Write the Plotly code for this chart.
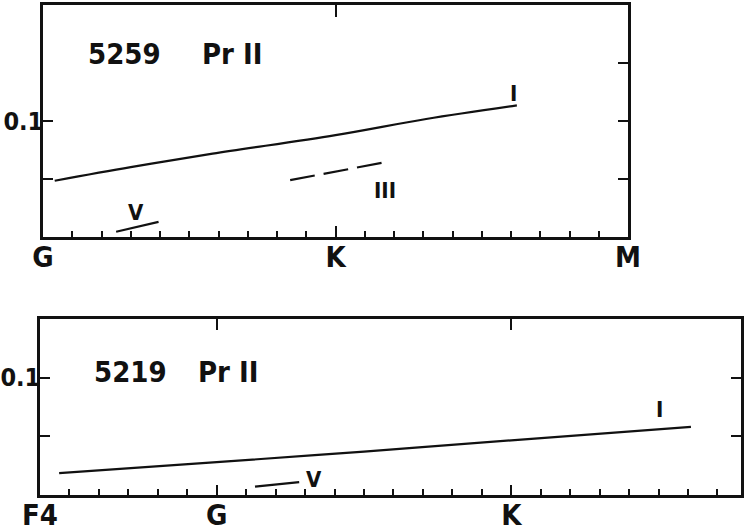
import plotly.graph_objects as go

# ---- data (spectral type scale: G0 = 0, K0 = 1, M0 = 2; one unit = 10 subtypes) ----
top_I_x = [0.04, 0.30, 0.58, 1.00, 1.31, 1.62]
top_I_y = [0.0485, 0.0602, 0.0718, 0.0878, 0.1017, 0.1134]
top_III_x = [0.845, 1.16]
top_III_y = [0.049, 0.064]
top_V_x = [0.25, 0.395]
top_V_y = [0.0045, 0.013]

bot_I_x = [-0.535, 0.0, 0.5, 1.0, 1.61]
bot_I_y = [0.0186, 0.028, 0.037, 0.0466, 0.058]
bot_V_x = [0.13, 0.28]
bot_V_y = [0.0071, 0.0109]

top_major = {0: "G", 1: "K", 2: "M"}
bot_major = {-0.6: "F4", 0: "G", 1: "K"}
y_ticks_left = [0.05, 0.1]
y_labels_left = ["", "0.1"]

INK = "#111111"
FONT = "DejaVu Sans Condensed, DejaVu Sans, Liberation Sans"


def subtype_ticks(lo, hi, major):
    vals, texts = [], []
    n = int(round(lo * 10))
    while n <= int(round(hi * 10)):
        v = round(n / 10, 1)
        vals.append(v)
        label = ""
        for k, t in major.items():
            if abs(k - v) < 1e-6:
                label = t
        texts.append(label)
        n += 1
    return vals, texts


top_vals, top_text = subtype_ticks(0, 2, top_major)
bot_vals, bot_text = subtype_ticks(-0.6, 1.7, bot_major)

fig = go.Figure()
line = dict(color=INK, width=2.2)

fig.add_trace(go.Scatter(x=top_I_x, y=top_I_y, mode="lines", line=dict(line, shape="spline"),
                         xaxis="x", yaxis="y", showlegend=False, hoverinfo="skip"))
fig.add_trace(go.Scatter(x=top_III_x, y=top_III_y, mode="lines", line=dict(line, dash="25px,9px"),
                         xaxis="x", yaxis="y", showlegend=False, hoverinfo="skip"))
fig.add_trace(go.Scatter(x=top_V_x, y=top_V_y, mode="lines", line=line,
                         xaxis="x", yaxis="y", showlegend=False, hoverinfo="skip"))
fig.add_trace(go.Scatter(x=bot_I_x, y=bot_I_y, mode="lines", line=dict(line, shape="spline"),
                         xaxis="x2", yaxis="y2", showlegend=False, hoverinfo="skip"))
fig.add_trace(go.Scatter(x=bot_V_x, y=bot_V_y, mode="lines", line=line,
                         xaxis="x2", yaxis="y2", showlegend=False, hoverinfo="skip"))
# empty traces to materialise the overlay axes (edge tick marks)
for xa, ya in [("x3", "y"), ("x", "y3"), ("x4", "y2"), ("x2", "y4"), ("x5", "y"), ("x6", "y2")]:
    fig.add_trace(go.Scatter(x=[], y=[], xaxis=xa, yaxis=ya, showlegend=False, hoverinfo="skip"))

W, H = 750, 531
top_dom_x = [43 / W, 628 / W]
top_dom_y = [1 - 237 / H, 1 - 5 / H]
bot_dom_x = [40 / W, 741 / W]
bot_dom_y = [1 - 495 / H, 1 - 319 / H]

tickfont = dict(family=FONT, size=29, color=INK, weight="bold")
yfont = dict(family=FONT, size=25, color=INK, weight="bold")
common_x = dict(showgrid=False, zeroline=False, showline=True, linecolor=INK, linewidth=2.5,
                mirror=True, ticks="inside", ticklen=6, tickwidth=2, tickcolor=INK,
                tickfont=tickfont, fixedrange=True, automargin=False, ticklabelstandoff=-8)
common_y = dict(showgrid=False, zeroline=False, showline=True, linecolor=INK, linewidth=2.5,
                mirror=True, ticks="inside", ticklen=10, tickwidth=2, tickcolor=INK,
                tickfont=yfont, fixedrange=True, automargin=False, ticklabelstandoff=-8)
overlay = dict(showgrid=False, zeroline=False, showline=False, showticklabels=False,
               ticks="inside", tickwidth=2, tickcolor=INK, tickmode="array",
               fixedrange=True, automargin=False)

fig.update_layout(
    width=W, height=H, margin=dict(l=0, r=0, t=0, b=0, autoexpand=False),
    paper_bgcolor="white", plot_bgcolor="white", showlegend=False,
    xaxis=dict(common_x, domain=top_dom_x, range=[0, 2], anchor="y",
               tickmode="array", tickvals=top_vals, ticktext=top_text),
    yaxis=dict(common_y, domain=top_dom_y, range=[0, 0.2], anchor="x",
               tickmode="array", tickvals=y_ticks_left, ticktext=y_labels_left),
    xaxis2=dict(common_x, domain=bot_dom_x, range=[-0.6, 1.78], anchor="y2",
                tickmode="array", tickvals=bot_vals, ticktext=bot_text),
    yaxis2=dict(common_y, domain=bot_dom_y, range=[0, 0.15], anchor="x2",
                tickmode="array", tickvals=y_ticks_left, ticktext=y_labels_left),
    # top-edge ticks
    xaxis3=dict(overlay, overlaying="x", side="top", anchor="y", range=[0, 2], ticklen=12, tickvals=[1]),
    xaxis4=dict(overlay, overlaying="x2", side="top", anchor="y2", range=[-0.6, 1.78], ticklen=11,
                tickvals=[0, 1]),
    # long major ticks on the bottom edge
    xaxis5=dict(overlay, overlaying="x", side="bottom", anchor="y", range=[0, 2], ticklen=11, tickvals=[1]),
    xaxis6=dict(overlay, overlaying="x2", side="bottom", anchor="y2", range=[-0.6, 1.78], ticklen=10,
                tickvals=[0, 1]),
    # right-edge ticks
    yaxis3=dict(overlay, overlaying="y", side="right", anchor="x", range=[0, 0.2], ticklen=10,
                tickvals=[0.05, 0.1, 0.15]),
    yaxis4=dict(overlay, overlaying="y2", side="right", anchor="x2", range=[0, 0.15], ticklen=10,
                tickvals=[0.05, 0.1]),
)

title_font = dict(family=FONT, size=29, color=INK, weight="bold")
lab_font = dict(family=FONT, size=22, color=INK, weight="bold")


def ann(text, x, y, xref, yref, font):
    fig.add_annotation(text=text, x=x, y=y, xref=xref, yref=yref, showarrow=False,
                       font=font, xanchor="center", yanchor="middle")


ann("5259", 0.277, 0.158, "x", "y", title_font)
ann("Pr II", 0.646, 0.158, "x", "y", title_font)
ann("I", 1.607, 0.124, "x", "y", lab_font)
ann("III", 1.169, 0.0397, "x", "y", lab_font)
ann("V", 0.318, 0.0207, "x", "y", lab_font)

ann("5219", -0.294, 0.105, "x2", "y2", title_font)
ann("Pr II", 0.038, 0.105, "x2", "y2", title_font)
ann("I", 1.504, 0.0725, "x2", "y2", lab_font)
ann("V", 0.33, 0.0128, "x2", "y2", lab_font)

fig.write_html(
    "out.html",
    config={"displayModeBar": False},
    post_script="document.body.style.margin='0';document.body.style.overflow='hidden';",
)
